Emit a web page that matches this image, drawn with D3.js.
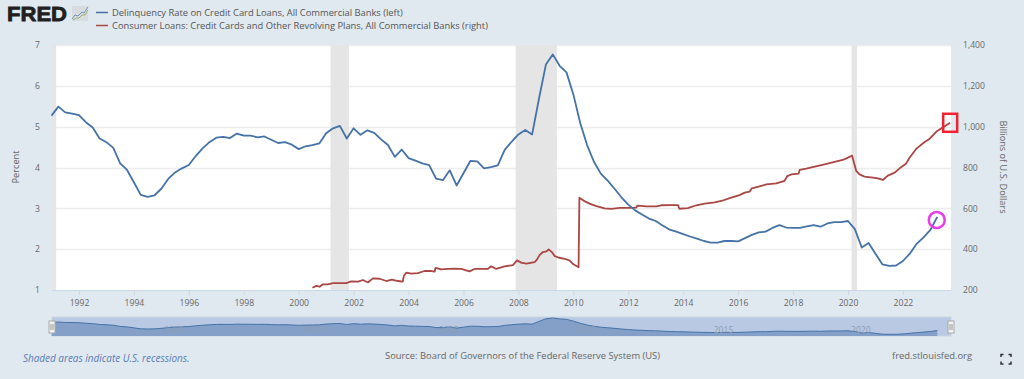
<!DOCTYPE html>
<html>
<head>
<meta charset="utf-8">
<script src="https://cdn.jsdelivr.net/npm/d3@7"></script>
<style>
  html, body { margin: 0; padding: 0; background: #e1e9f0; overflow: hidden; }
  text { font-family: "Open Sans", sans-serif; }
</style>
</head>
<body>
<div id="chart"></div>
<script>
const width = 1024, height = 379;
const margin = { top: 45, right: 73, bottom: 89, left: 52 };

// Delinquency rate, one value per quarter from 1991 Q1 to 2023 Q2
const delinquencyStart = 1991;
const delinquency = [
  5.27, 5.49, 5.35, 5.32, 5.28, 5.11, 4.98, 4.71, 4.62, 4.48, 4.10, 3.94,
  3.64, 3.33, 3.28, 3.32, 3.48, 3.72, 3.88, 3.98, 4.06, 4.28, 4.47, 4.62,
  4.73, 4.75, 4.72, 4.83, 4.78, 4.78, 4.74, 4.76, 4.68, 4.60, 4.62, 4.56,
  4.45, 4.52, 4.55, 4.59, 4.84, 4.96, 5.02, 4.71, 4.96, 4.80, 4.91, 4.85,
  4.69, 4.55, 4.26, 4.44, 4.23, 4.17, 4.10, 4.06, 3.73, 3.69, 3.93, 3.56,
  3.86, 4.16, 4.15, 3.98, 4.01, 4.05, 4.43, 4.63, 4.81, 4.92, 4.81, 5.69,
  6.52, 6.77, 6.49, 6.33, 5.79, 5.09, 4.55, 4.14, 3.85, 3.68, 3.48, 3.27,
  3.09, 2.95, 2.85, 2.75, 2.69, 2.58, 2.48, 2.43, 2.37, 2.31, 2.26, 2.20,
  2.16, 2.16, 2.20, 2.20, 2.19, 2.27, 2.35, 2.41, 2.43, 2.52, 2.59, 2.53,
  2.52, 2.52, 2.56, 2.59, 2.55, 2.63, 2.66, 2.66, 2.69, 2.49, 2.04, 2.15,
  1.89, 1.63, 1.59, 1.60, 1.71, 1.89, 2.13, 2.29, 2.47, 2.79
];

const loanYears = [
  2000.50, 2000.64, 2000.76, 2000.88, 2001.06, 2001.25, 2001.43, 2001.73, 2001.91, 2002.16,
  2002.34, 2002.52, 2002.70, 2002.95, 2003.19, 2003.39, 2003.61, 2003.79, 2003.83, 2003.92,
  2004.10, 2004.34, 2004.58, 2004.83, 2004.95, 2004.98, 2005.19, 2005.43, 2005.68, 2005.92,
  2006.22, 2006.40, 2006.65, 2006.89, 2007.01, 2007.19, 2007.50, 2007.80, 2007.95, 2008.10,
  2008.29, 2008.59, 2008.68, 2008.77, 2008.89, 2009.02, 2009.10, 2009.23, 2009.32, 2009.48,
  2009.68, 2009.87, 2009.99, 2010.19, 2010.22, 2010.37, 2010.59, 2010.84, 2011.14, 2011.38,
  2011.69, 2012.05, 2012.29, 2012.33, 2012.66, 2013.02, 2013.20, 2013.51, 2013.81, 2013.86,
  2014.17, 2014.48, 2014.78, 2015.14, 2015.39, 2015.69, 2016.05, 2016.24, 2016.42, 2016.50,
  2016.78, 2017.03, 2017.39, 2017.69, 2017.79, 2017.94, 2018.20, 2018.24, 2018.48, 2018.79,
  2019.03, 2019.33, 2019.51, 2019.81, 2019.94, 2020.15, 2020.24, 2020.30, 2020.42, 2020.60,
  2020.91, 2021.09, 2021.27, 2021.45, 2021.70, 2021.88, 2022.12, 2022.24, 2022.48, 2022.79,
  2022.95, 2023.21, 2023.46, 2023.72
];
const loans = [
  211, 220, 216, 228, 228, 234, 234, 234, 242, 241,
  249, 237, 257, 255, 244, 251, 244, 241, 270, 285,
  280, 283, 293, 293, 290, 308, 301, 303, 304, 303,
  291, 303, 303, 304, 316, 303, 316, 322, 345, 334,
  329, 336, 350, 371, 386, 389, 399, 384, 366, 358,
  353, 344, 327, 311, 652, 638, 623, 611, 600, 597,
  602, 602, 603, 613, 610, 610, 615, 616, 616, 598,
  601, 615, 623, 629, 636, 650, 665, 677, 682, 698,
  708, 717, 722, 735, 758, 766, 770, 788, 794, 804,
  812, 822, 828, 837, 845, 858, 812, 783, 766, 755,
  750, 747, 739, 760, 775, 796, 820, 848, 891, 925,
  938, 975, 997, 1019
];

const recessions = [[1990.58, 1991.17], [2001.16, 2001.83], [2007.90, 2009.40], [2020.13, 2020.33]];
const yearTicks = d3.range(1992, 2024, 2);
const navigatorTicks = [1995, 2000, 2005, 2010, 2015, 2020];
const leftTicks = [1, 2, 3, 4, 5, 6, 7];
const rightTicks = [200, 400, 600, 800, 1000, 1200, 1400];
const legendLabels = [
  "Delinquency Rate on Credit Card Loans, All Commercial Banks (left)",
  "Consumer Loans: Credit Cards and Other Revolving Plans, All Commercial Banks (right)"
];

const blue = "#4572a7", red = "#aa4643", grey = "#666";
const chartRight = width - margin.right, chartBottom = height - margin.bottom;

const delinquencyData = delinquency.map((v, i) => ({ x: delinquencyStart + i / 4, y: v }));
const loanData = loans.map((v, i) => ({ x: loanYears[i], y: v }));

const xScale = d3.scaleLinear().domain([1991, 2023.75]).range([margin.left - 0.5, chartRight]);
const yLeft = d3.scaleLinear().domain([1, 7]).range([chartBottom, margin.top]);
const yRight = d3.scaleLinear().domain([200, 1400]).range([chartBottom, margin.top]);

const svg = d3.select("#chart")
    .append("svg")
    .attr("width", width)
    .attr("height", height)
    .style("display", "block")
    .style("background-color", "#e1e9f0");

// Plot background
svg.append("rect")
    .attr("x", margin.left)
    .attr("y", margin.top)
    .attr("width", chartRight - margin.left)
    .attr("height", chartBottom - margin.top)
    .attr("fill", "#fff");

// Horizontal grid lines
svg.append("g")
    .selectAll("line")
    .data(leftTicks.slice(1))
    .join("line")
    .attr("x1", margin.left)
    .attr("x2", chartRight)
    .attr("y1", d => Math.round(yLeft(d)) + 0.5)
    .attr("y2", d => Math.round(yLeft(d)) + 0.5)
    .attr("stroke", "#ececec")
    .attr("stroke-width", 1.5);

// Recession bands
svg.append("g")
    .selectAll("rect")
    .data(recessions)
    .join("rect")
    .attr("x", d => Math.max(xScale(d[0]), margin.left))
    .attr("y", margin.top)
    .attr("width", d => xScale(d[1]) - Math.max(xScale(d[0]), margin.left))
    .attr("height", chartBottom - margin.top)
    .attr("fill", "#e5e5e5");

// Bottom axis
const xAxis = d3.axisBottom(xScale).tickValues(yearTicks).tickFormat(d3.format("d")).tickSizeInner(5).tickSizeOuter(0).tickPadding(5);
const xAxisG = svg.append("g")
    .attr("transform", `translate(0,${chartBottom})`)
    .call(xAxis);
xAxisG.select(".domain").attr("stroke", "#c9d7e6");
xAxisG.selectAll(".tick line").attr("stroke", "#c9d7e6");
xAxisG.selectAll("text").attr("fill", grey).style("font-size", "8.6px");

// Left and right value axes, labels only
const leftAxisG = svg.append("g")
    .attr("transform", `translate(${margin.left},0)`)
    .call(d3.axisLeft(yLeft).tickValues(leftTicks).tickFormat(d3.format("d")).tickSize(0).tickPadding(12));
leftAxisG.select(".domain").remove();
leftAxisG.selectAll("text").attr("fill", grey).style("font-size", "8.6px");

const rightAxisG = svg.append("g")
    .attr("transform", `translate(${chartRight},0)`)
    .call(d3.axisRight(yRight).tickValues(rightTicks).tickFormat(d3.format(",")).tickSize(0).tickPadding(12));
rightAxisG.select(".domain").remove();
rightAxisG.selectAll("text").attr("fill", grey).style("font-size", "8.6px");

// Axis titles
svg.append("text")
    .attr("transform", "translate(17,167) rotate(-90)")
    .attr("text-anchor", "middle")
    .attr("dominant-baseline", "middle")
    .attr("fill", grey)
    .style("font-size", "9.2px")
    .text("Percent");

svg.append("text")
    .attr("transform", "translate(1002,167) rotate(90)")
    .attr("text-anchor", "middle")
    .attr("dominant-baseline", "middle")
    .attr("fill", grey)
    .style("font-size", "9.2px")
    .text("Billions of U.S. Dollars");

// Series
const lineLeft = d3.line().x(d => xScale(d.x)).y(d => yLeft(d.y));
const lineRight = d3.line().x(d => xScale(d.x)).y(d => yRight(d.y));

svg.append("path")
    .datum(loanData)
    .attr("d", lineRight)
    .attr("fill", "none")
    .attr("stroke", red)
    .attr("stroke-width", 1.8)
    .attr("stroke-linejoin", "round");

svg.append("path")
    .datum(delinquencyData)
    .attr("d", lineLeft)
    .attr("fill", "none")
    .attr("stroke", blue)
    .attr("stroke-width", 1.8)
    .attr("stroke-linejoin", "round");

// Hand drawn markers on the two latest values
const lastLoan = loanData[loanData.length - 1];
const lastRate = delinquencyData[delinquencyData.length - 1];

svg.append("rect")
    .attr("x", xScale(lastLoan.x) - 7)
    .attr("y", yRight(lastLoan.y) - 9)
    .attr("width", 14)
    .attr("height", 18)
    .attr("fill", "none")
    .attr("stroke", "#ee2233")
    .attr("stroke-width", 2.5);

svg.append("circle")
    .attr("cx", xScale(lastRate.x) - 0.5)
    .attr("cy", yLeft(lastRate.y) + 3)
    .attr("r", 8)
    .attr("fill", "none")
    .attr("stroke", "#e83ee8")
    .attr("stroke-width", 2.5);

// Legend
const legend = svg.append("g")
    .selectAll("g")
    .data(legendLabels)
    .join("g")
    .attr("transform", (d, i) => `translate(96,${12.5 + i * 13})`);

legend.append("line")
    .attr("x2", 12)
    .attr("stroke", (d, i) => i === 0 ? blue : red)
    .attr("stroke-width", 1.5);

legend.append("text")
    .attr("x", 16)
    .attr("dy", "0.35em")
    .attr("fill", "#555")
    .style("font-size", "9.35px")
    .text(d => d);

// FRED logo
svg.append("text")
    .attr("x", 7)
    .attr("y", 21)
    .attr("textLength", 60)
    .attr("lengthAdjust", "spacingAndGlyphs")
    .attr("fill", "#231f20")
    .attr("stroke", "#231f20")
    .attr("stroke-width", 0.8)
    .style("font-family", "'Liberation Sans', sans-serif")
    .style("font-weight", "bold")
    .style("font-size", "21px")
    .text("FRED");

const logoIcon = svg.append("g").attr("transform", "translate(72,6)");
logoIcon.append("rect").attr("width", 16).attr("height", 15).attr("fill", "#d8dcde");
logoIcon.append("path")
    .attr("d", "M0,13 L3,9 L6,10 L10,6 L12,7 L16,1")
    .attr("fill", "none").attr("stroke", "#5b7fb0").attr("stroke-width", 0.8);
logoIcon.append("path")
    .attr("d", "M1,14 L4,12 L7,12 L10,9 L13,9 L16,4")
    .attr("fill", "none").attr("stroke", "#8aa85a").attr("stroke-width", 0.8);

// Navigator
const navigator = { top: 317, bottom: 336 };
const navY = d3.scaleLinear().domain([1.59, 6.77]).range([334.3, 318]);

svg.append("rect")
    .attr("x", margin.left)
    .attr("y", navigator.top)
    .attr("width", chartRight - margin.left)
    .attr("height", navigator.bottom - navigator.top)
    .attr("fill", "#b9c9e3")
    .attr("stroke", "#ccd6e2")
    .attr("stroke-width", 1);

svg.append("path")
    .datum(delinquencyData)
    .attr("d", d3.area().x(d => xScale(d.x)).y0(navigator.bottom).y1(d => navY(d.y)))
    .attr("fill", "#84a0c9");

svg.append("path")
    .datum(delinquencyData)
    .attr("d", d3.line().x(d => xScale(d.x)).y(d => navY(d.y)))
    .attr("fill", "none")
    .attr("stroke", blue)
    .attr("stroke-width", 1);

svg.append("g")
    .selectAll("text")
    .data(navigatorTicks)
    .join("text")
    .attr("x", d => xScale(d) + 3)
    .attr("y", 333)
    .attr("fill", "#8d9db3")
    .style("font-size", "8.6px")
    .text(d => d);

const handles = svg.append("g")
    .selectAll("g")
    .data([xScale.range()[0] + 0.5, chartRight])
    .join("g")
    .attr("transform", d => `translate(${d},321)`);

handles.append("rect")
    .attr("x", -3)
    .attr("width", 6)
    .attr("height", 12)
    .attr("fill", "#f2f2f2")
    .attr("stroke", "#aaa");

handles.selectAll("line")
    .data([-1, 1])
    .join("line")
    .attr("x1", d => d)
    .attr("x2", d => d)
    .attr("y1", 3)
    .attr("y2", 9)
    .attr("stroke", "#999");

// Footer
svg.append("text")
    .attr("x", 23)
    .attr("y", 362)
    .attr("fill", "#5a7cb4")
    .style("font-size", "9.95px")
    .style("font-style", "italic")
    .text("Shaded areas indicate U.S. recessions.");

svg.append("text")
    .attr("x", 385)
    .attr("y", 358.5)
    .attr("fill", grey)
    .style("font-size", "9.4px")
    .text("Source: Board of Governors of the Federal Reserve System (US)");

svg.append("text")
    .attr("x", 892)
    .attr("y", 358.5)
    .attr("fill", grey)
    .style("font-size", "9.4px")
    .text("fred.stlouisfed.org");

// Fullscreen icon
svg.append("path")
    .attr("d", "M1001,357V354.5H1003.5 M1008.5,354.5H1011V357 M1011,361.5V364H1008.5 M1003.5,364H1001V361.5")
    .attr("fill", "none")
    .attr("stroke", "#333")
    .attr("stroke-width", 1.5);
</script>
</body>
</html>
